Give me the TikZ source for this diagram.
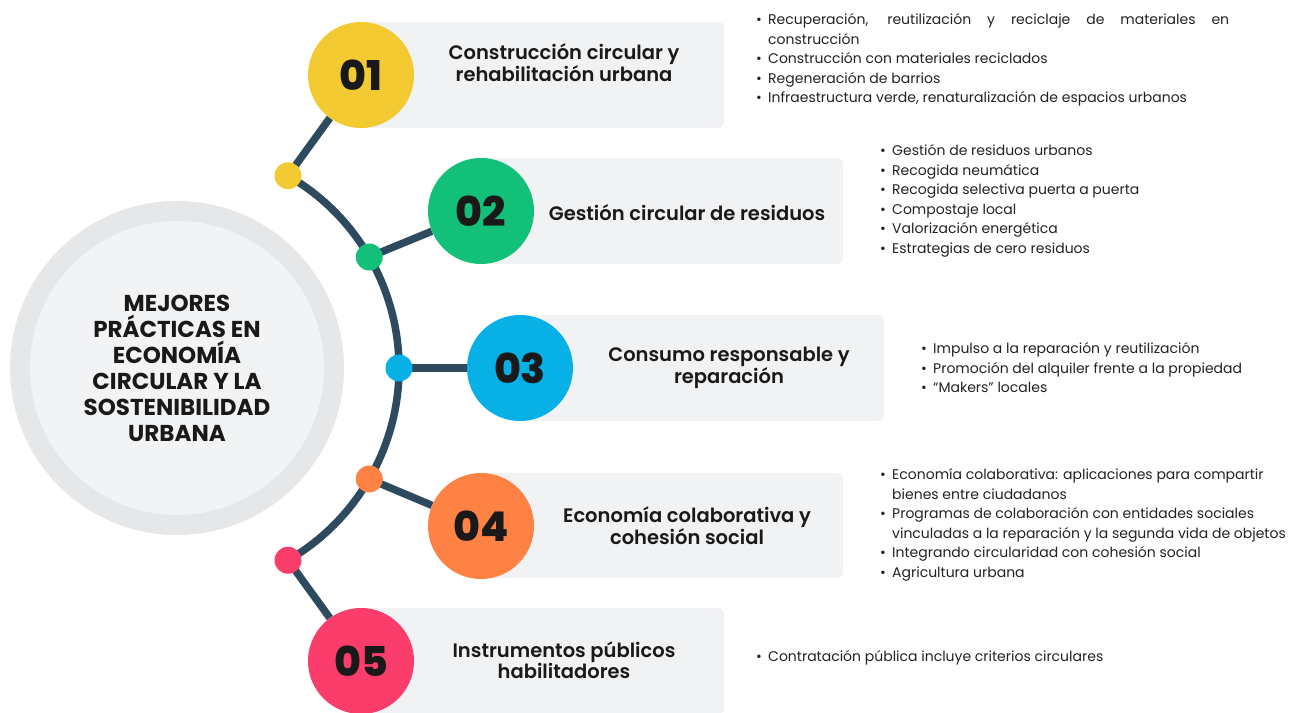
\documentclass[tikz,border=0pt]{standalone}
\usepackage{fontspec}
\setmainfont{Poppins}
\newfontfamily\headfont{Poppins SemiBold}
\newfontfamily\numfont{Poppins ExtraBold}
\newcommand\itm{\makebox[12pt][l]{\textbullet}}
\newcommand\cont{\hspace*{12pt}}
\begin{document}
\begin{tikzpicture}[x=1pt,y=1pt,
  num/.style={circle,minimum size=106pt,inner sep=0pt,text=black!90,font=\numfont\fontsize{41}{41}\selectfont},
  dot/.style={circle,minimum size=27pt,inner sep=0pt},
  card/.style={fill=card,rounded corners=6pt},
  head/.style={align=center,inner sep=0pt,text=black!90,font=\headfont\fontsize{19.5}{20}\selectfont},
  list/.style={anchor=west,align=left,inner sep=0pt,text=ink,font=\fontsize{14}{19.5}\selectfont},
  link/.style={draw=navy,line width=7.5pt}]
  \definecolor{ringo}{HTML}{E6E7E9}
  \definecolor{ringi}{HTML}{F2F3F5}
  \definecolor{card}{HTML}{F1F2F4}
  \definecolor{navy}{HTML}{2D4A5F}
  \definecolor{ink}{HTML}{222222}
  \definecolor{cyel}{HTML}{F4CA33}
  \definecolor{cgrn}{HTML}{12C079}
  \definecolor{cblu}{HTML}{08B1E5}
  \definecolor{corg}{HTML}{FD8243}
  \definecolor{cpnk}{HTML}{FB3D6B}
  \useasboundingbox (0,0) rectangle (1290,712);
  \node [circle,fill=ringo,minimum size=334pt,inner sep=0pt] (hub) at (177,344) {};
  \node [circle,fill=ringi,minimum size=294pt,inner sep=0pt,align=center,text=black!90,
    font=\bfseries\fontsize{23}{26}\selectfont] (title) at (hub.center)
    {MEJORES\\PRÁCTICAS EN\\ECONOMÍA\\CIRCULAR Y LA\\SOSTENIBILIDAD\\URBANA};
  \fill [card] (361,584) rectangle (724,690);
  \fill [card] (481,448) rectangle (843,554);
  \fill [card] (520,291) rectangle (884,397);
  \fill [card] (481,134) rectangle (843,239);
  \fill [card] (361,-2) rectangle (724,104);
  \node [num,fill=cyel] (n1) at (361,637) {01};
  \node [num,fill=cgrn] (n2) at (481,501) {02};
  \node [num,fill=cblu] (n3) at (520,344) {03};
  \node [num,fill=corg] (n4) at (481,186) {04};
  \node [num,fill=cpnk] (n5) at (361,51) {05};
  \coordinate (p1) at ([shift={(60:222)}]hub.center);
  \coordinate (p2) at ([shift={(30:222)}]hub.center);
  \coordinate (p3) at ([shift={(0:222)}]hub.center);
  \coordinate (p4) at ([shift={(-30:222)}]hub.center);
  \coordinate (p5) at ([shift={(-60:222)}]hub.center);
  \draw [link] (p1) arc [start angle=60,end angle=-60,radius=222];
  \draw [link] (p1) -- (n1);
  \draw [link] (p2) -- (n2);
  \draw [link] (p3) -- (n3);
  \draw [link] (p4) -- (n4);
  \draw [link] (p5) -- (n5);
  \node [dot,fill=cyel] (d1) at (p1) {};
  \node [dot,fill=cgrn] (d2) at (p2) {};
  \node [dot,fill=cblu] (d3) at (p3) {};
  \node [dot,fill=corg] (d4) at (p4) {};
  \node [dot,fill=cpnk] (d5) at (p5) {};
  \node [head] (h1) at (564,649) {Construcción circular y\\rehabilitación urbana};
  \node [head] (h2) at (687,499) {Gestión circular de residuos};
  \node [head] (h3) at (729,344) {Consumo responsable y\\reparación};
  \node [head] (h4) at (687,186) {Economía colaborativa y\\cohesión social};
  \node [head] (h5) at (564,52) {Instrumentos públicos\\habilitadores};
  \node [list] (l1) at (756,652) {\itm\makebox[461pt][s]{Recuperación, reutilización y reciclaje de materiales en}\\
    \cont construcción\\
    \itm Construcción con materiales reciclados\\
    \itm Regeneración de barrios\\
    \itm Infraestructura verde, renaturalización de espacios urbanos};
  \node [list] (l2) at (880,511) {\itm Gestión de residuos urbanos\\
    \itm Recogida neumática\\
    \itm Recogida selectiva puerta a puerta\\
    \itm Compostaje local\\
    \itm Valorización energética\\
    \itm Estrategias de cero residuos};
  \node [list] (l3) at (921,344) {\itm Impulso a la reparación y reutilización\\
    \itm Promoción del alquiler frente a la propiedad\\
    \itm “Makers” locales};
  \node [list] (l4) at (880,187) {\itm Economía colaborativa: aplicaciones para compartir\\
    \cont bienes entre ciudadanos\\
    \itm Programas de colaboración con entidades sociales\\
    \cont vinculadas a la reparación y la segunda vida de objetos\\
    \itm Integrando circularidad con cohesión social\\
    \itm Agricultura urbana};
  \node [list] (l5) at (756,54) {\itm Contratación pública incluye criterios circulares};
\end{tikzpicture}
\end{document}
